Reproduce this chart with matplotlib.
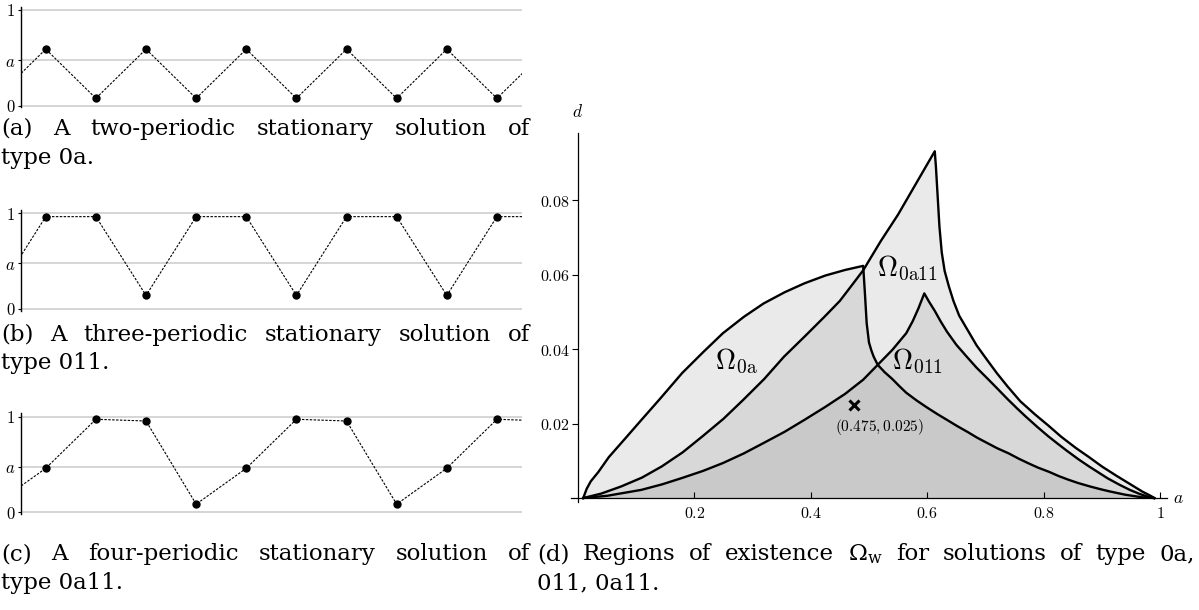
import matplotlib
matplotlib.use('Agg')
import matplotlib.pyplot as plt

plt.rcParams['mathtext.fontset'] = 'cm'
plt.rcParams['font.family'] = 'DejaVu Serif'

# ---- left panels: stationary solutions (value at each lattice site) ----
a_level = 0.475
site_x = [-0.5, 0.5, 1.5, 2.5, 3.5, 4.5, 5.5, 6.5, 7.5, 8.5, 9.5, 10.5]
sol_oa = [0.075, 0.59, 0.075, 0.59, 0.075, 0.59, 0.075, 0.59, 0.075, 0.59, 0.075, 0.59]
sol_o11 = [0.14, 0.965, 0.965, 0.14, 0.965, 0.965, 0.14, 0.965, 0.965, 0.14, 0.965, 0.965]
sol_oa11 = [0.084, 0.46, 0.973, 0.955, 0.084, 0.46, 0.973, 0.955, 0.084, 0.46, 0.973, 0.955]
left_ticks = [0, a_level, 1]
left_ticklabels = ['0', 'a', '1']

# ---- right panel: regions of existence (upper boundaries, d over a) ----
oa_a = [0.009, 0.015, 0.022, 0.035, 0.053, 0.08, 0.109, 0.14, 0.179, 0.215, 0.249, 0.285,
        0.319, 0.355, 0.389, 0.425, 0.459, 0.49, 0.493, 0.496, 0.50, 0.504, 0.508, 0.515,
        0.527, 0.54, 0.552, 0.564, 0.582, 0.60, 0.617, 0.634, 0.652, 0.67, 0.686, 0.703,
        0.72, 0.74, 0.757, 0.773, 0.79, 0.81, 0.826, 0.843, 0.86, 0.88, 0.897, 0.913,
        0.94, 0.969, 0.99]
oa_d = [0, 0.0025, 0.0045, 0.007, 0.011, 0.0158, 0.021, 0.0265, 0.0336, 0.0392, 0.0443, 0.0487,
        0.0523, 0.0553, 0.0577, 0.0598, 0.0613, 0.0624, 0.055, 0.047, 0.0418, 0.0397, 0.038, 0.0358,
        0.0338, 0.032, 0.0301, 0.0283, 0.0262, 0.0243, 0.0226, 0.021, 0.0193, 0.0177, 0.0162, 0.0148,
        0.0134, 0.012, 0.0106, 0.0094, 0.0082, 0.007, 0.0059, 0.0049, 0.004, 0.0031, 0.0024, 0.0018,
        0.0009, 0.0002, 0]

o11_a = [0.009, 0.05, 0.109, 0.145, 0.179, 0.215, 0.249, 0.285, 0.319, 0.355, 0.389, 0.425,
         0.459, 0.49, 0.515, 0.54, 0.564, 0.575, 0.585, 0.595, 0.603, 0.613, 0.623, 0.634,
         0.65, 0.669, 0.685, 0.703, 0.72, 0.738, 0.755, 0.77, 0.79, 0.808, 0.825, 0.84,
         0.86, 0.878, 0.895, 0.91, 0.93, 0.948, 0.965, 0.98, 0.99]
o11_d = [0, 0.0006, 0.0022, 0.0037, 0.0054, 0.0073, 0.0094, 0.012, 0.0148, 0.0178, 0.021, 0.0245,
         0.028, 0.0318, 0.0358, 0.0398, 0.0443, 0.0475, 0.051, 0.055, 0.0528, 0.0503, 0.0475, 0.0447,
         0.0412, 0.0378, 0.035, 0.0322, 0.0295, 0.0266, 0.024, 0.0218, 0.019, 0.0166, 0.0145, 0.0127,
         0.0104, 0.0085, 0.0068, 0.0053, 0.0036, 0.0022, 0.0011, 0.0003, 0]

oa11_a = [0.009, 0.04, 0.074, 0.11, 0.144, 0.18, 0.214, 0.25, 0.284, 0.32, 0.354, 0.39,
          0.424, 0.45, 0.473, 0.49, 0.52, 0.55, 0.58, 0.613, 0.615, 0.618, 0.621, 0.625,
          0.63, 0.637, 0.645, 0.655, 0.67, 0.685, 0.703, 0.72, 0.738, 0.76, 0.785, 0.808,
          0.83, 0.855, 0.878, 0.9, 0.925, 0.948, 0.97, 0.985, 0.99]
oa11_d = [0, 0.0012, 0.0031, 0.0055, 0.0085, 0.0123, 0.0166, 0.0213, 0.0264, 0.032, 0.038, 0.0435,
          0.0488, 0.053, 0.0577, 0.0612, 0.069, 0.0762, 0.0843, 0.0932, 0.089, 0.081, 0.073, 0.066,
          0.061, 0.057, 0.053, 0.049, 0.045, 0.041, 0.0371, 0.0335, 0.030, 0.026, 0.0225, 0.0195,
          0.0165, 0.0135, 0.011, 0.0085, 0.006, 0.0038, 0.0017, 0.0005, 0]

region_labels = [r'$\Omega_{\mathrm{0a}}$', r'$\Omega_{\mathrm{011}}$', r'$\Omega_{\mathrm{0a11}}$']
label_pos = [(0.236, 0.0345), (0.54, 0.0345), (0.513, 0.0595)]
point = (0.475, 0.025)
point_text = r'$\mathbf{(0.475, 0.025)}$'
xticks = [0.2, 0.4, 0.6, 0.8, 1]
xticklabels = ['0.2', '0.4', '0.6', '0.8', '1']
yticks = [0.02, 0.04, 0.06, 0.08]
yticklabels = ['0.02', '0.04', '0.06', '0.08']

captions_a = ['(a) A two-periodic stationary solution of', 'type 0a.']
captions_b = ['(b) A three-periodic stationary solution of', 'type 011.']
captions_c = ['(c) A four-periodic stationary solution of', 'type 0a11.']
captions_d = [r'(d) Regions of existence $\Omega_{\mathrm{w}}$ for solutions of type 0a,', '011, 0a11.']

W, H = 1199, 610
fig = plt.figure(figsize=(W / 100, H / 100), dpi=100)


def px_axes(left, top, right, bottom):
    return fig.add_axes([left / W, 1 - bottom / H, (right - left) / W, (bottom - top) / H])


# left panels, "1" gridline at these pixel rows
unit = 95.5
for one_y, vals in zip([10, 213.3, 416.7], [sol_oa, sol_o11, sol_oa11]):
    ax = px_axes(20.7, one_y - 0.035 * unit, 522, one_y + 1.02 * unit)
    ax.set_xlim(0, 10)
    ax.set_ylim(-0.02, 1.035)
    for yv in left_ticks:
        ax.axhline(yv, color='#d2d2d2', lw=1.3, zorder=0)
    ax.plot(site_x, vals, color='k', lw=0.8, ls=(0, (2.2, 1.3)),
            marker='o', ms=5, mfc='k', mec='k', zorder=3)
    for s in ['top', 'right', 'bottom']:
        ax.spines[s].set_visible(False)
    ax.spines['left'].set_linewidth(1.0)
    ax.set_xticks([])
    ax.set_yticks(left_ticks)
    ax.set_yticklabels(['$%s$' % t for t in left_ticklabels], fontsize=12)
    ax.tick_params(axis='y', direction='out', length=2.5, width=0.8, pad=1.5)

# right panel
ax = px_axes(571, 133.4, 1167, 502.5)
ax.set_xlim(-0.012, 1.012)
ax.set_ylim(-0.0012, 0.098)
for xs, ys in [(oa_a, oa_d), (o11_a, o11_d), (oa11_a, oa11_d)]:
    ax.fill(xs, ys, facecolor=(0.5, 0.5, 0.5), alpha=0.16, edgecolor='none', zorder=1)
for xs, ys in [(oa_a, oa_d), (o11_a, o11_d), (oa11_a, oa11_d)]:
    ax.plot(xs, ys, color='k', lw=1.7, zorder=2)
for lab, (lx, ly) in zip(region_labels, label_pos):
    ax.text(lx, ly, lab, fontsize=20, ha='left', va='baseline', zorder=4)
ax.plot(point[0], point[1], marker='x', color='k', ms=7, mew=2.2, zorder=4)
ax.text(0.518, 0.0192, point_text, fontsize=11, ha='center', va='center', zorder=4)

ax.spines['left'].set_position(('data', 0))
ax.spines['bottom'].set_position(('data', 0))
ax.spines['top'].set_visible(False)
ax.spines['right'].set_visible(False)
ax.spines['left'].set_linewidth(0.9)
ax.spines['bottom'].set_linewidth(0.9)
ax.set_xticks(xticks)
ax.set_xticklabels(['$%s$' % t for t in xticklabels], fontsize=11.5)
ax.set_yticks(yticks)
ax.set_yticklabels(['$%s$' % t for t in yticklabels], fontsize=11.5)
ax.tick_params(axis='x', direction='in', length=4, width=0.8, pad=5)
ax.tick_params(axis='y', direction='out', length=4, width=0.8, pad=2)
ax.text(1.022, 0, '$a$', fontsize=12.5, ha='left', va='center', clip_on=False)
ax.text(0, 0.1035, '$d$', fontsize=12.5, ha='center', va='center', clip_on=False)

# captions, first line justified like the typeset original
cap_fs = 16.5
renderer = fig.canvas.get_renderer()


def caption(x0, x1, y0, lines, gap=29):
    first, second = lines
    words = first.split(' ')
    arts = [fig.text(0, 0, w, fontsize=cap_fs, va='baseline', math_fontfamily='dejavuserif')
            for w in words]
    widths = [t.get_window_extent(renderer).width for t in arts]
    space = max((x1 - x0 - sum(widths)) / (len(words) - 1), 4)
    x = x0
    for t, w in zip(arts, widths):
        t.set_position((x / W, 1 - y0 / H))
        x += w + space
    fig.text(x0 / W, 1 - (y0 + gap) / H, second, fontsize=cap_fs, va='baseline')


caption(1, 530, 135, captions_a)
caption(1, 530, 341, captions_b, gap=28)
caption(1, 530, 560, captions_c)
caption(537, 1195, 560, captions_d)

fig.savefig('out.png', dpi=100)
